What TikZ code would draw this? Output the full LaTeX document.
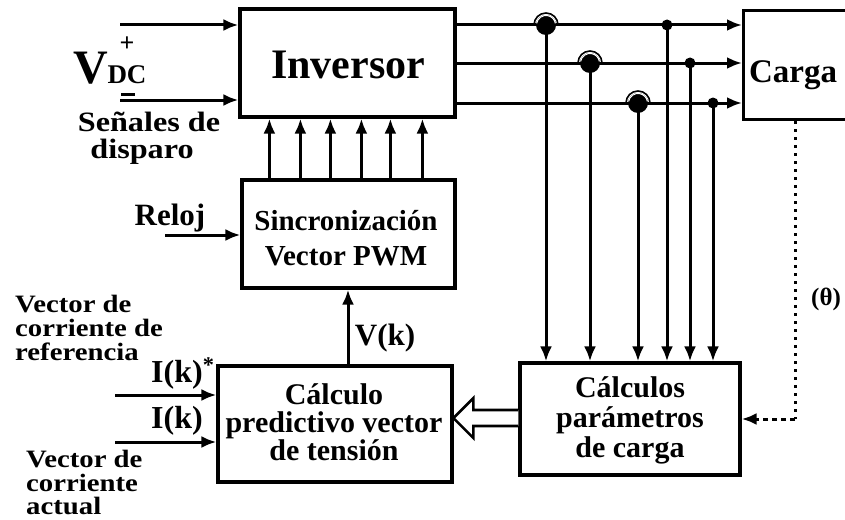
\documentclass[tikz,border=0pt]{standalone}
\usepackage{fontspec}
\setmainfont{Liberation Serif}
\newfontfamily\widefam{Liberation Serif}[FakeStretch=1.15]
\usetikzlibrary{arrows.meta,calc}
\newcommand{\fsz}[2]{\bfseries\fontsize{#1}{#2}\selectfont}
\newcommand{\wsz}[2]{\widefam\bfseries\fontsize{#1}{#2}\selectfont}
\begin{document}
\begin{tikzpicture}[x=1pt,y=-1pt,
  box/.style={draw, line width=3.2pt, inner sep=0pt},
  wire/.style={line width=3pt},
  arr/.style={wire, -{Latex[length=15pt,width=12pt]}},
  lab/.style={inner sep=0pt, align=center}
]
\useasboundingbox (0,0) rectangle (845,519);

% boxes
\node[box, minimum width=215pt, minimum height=108pt] (inv) at (347.5,63) {};
\node[lab, anchor=base, font=\fsz{42}{42}] (invT) at (348,78) {Inversor};
\node[box, minimum width=125pt, minimum height=109pt, anchor=north west] (carga) at (742,9) {};
\node[lab, anchor=base, font=\fsz{33}{33}] (cargaT) at (793,82) {Carga};
\node[box, minimum width=213pt, minimum height=108pt] (sinc) at (348.5,234) {};
\node[lab, anchor=base, font=\fsz{29}{29}] (sincT1) at (346,230) {Sincronización};
\node[lab, anchor=base, font=\fsz{29}{29}] (sincT2) at (346,265) {Vector PWM};
\node[box, minimum width=234pt, minimum height=116pt] (pred) at (335,424) {};
\node[lab, anchor=north, font=\fsz{30}{28}] (predT) at (334,383) {Cálculo\\predictivo vector\\de tensión};
\node[box, minimum width=220pt, minimum height=112pt] (calcB) at (630,419) {};
\node[lab, anchor=north, font=\fsz{30}{30}] (calcT) at (630,376) {Cálculos\\parámetros\\de carga};

% DC inputs
\coordinate (vp) at (120,25);
\coordinate (vm) at (120,100);
\draw[arr] (vp) -- (vp -| inv.west);
\draw[arr] (vm) -- (vm -| inv.west);

% left labels
\node[lab, anchor=base, font=\fsz{48}{48}] (V) at (91,83) {V};
\node[lab, anchor=base, font=\fsz{27}{27}] (DC) at (127,83) {DC};
\node[lab, font=\fsz{26}{26}] (plus) at (127,44) {+};
\node[lab] (minus) at (128,94) {\rule{14pt}{3pt}};
\node[lab, anchor=base, font=\wsz{28}{28}] (sen) at (149,131) {Señales de};
\node[lab, anchor=base, font=\wsz{28}{28}] (disp) at (142,158) {disparo};

% output lines
\coordinate (l1) at (0,25);
\coordinate (l2) at (0,63);
\coordinate (l3) at (0,103);
\draw[arr] (inv.east |- l1) -- (carga.west |- l1);
\draw[arr] (inv.east |- l2) -- (carga.west |- l2);
\draw[arr] (inv.east |- l3) -- (carga.west |- l3);

% taps
\coordinate (j1) at (546,25);
\coordinate (j2) at (590,63);
\coordinate (j3) at (638,103);
\coordinate (d1) at (667,25);
\coordinate (d2) at (690,63);
\coordinate (d3) at (713,103);
\foreach \p in {j1,j2,j3,d1,d2,d3} {
  \draw[arr] (\p) -- (\p |- calcB.north);
}
\foreach \p in {j1,j2,j3} {
  \draw[line width=1.6pt] ($(\p)+(180:12)$) arc[start angle=180, end angle=360, radius=12];
  \fill (\p) circle (10);
  \draw[white, line width=1pt] ($(\p)+(190:9.5)$) arc[start angle=190, end angle=350, radius=9.5];
}
\foreach \p in {d1,d2,d3} {
  \fill (\p) circle (5.5);
}

% gate signals
\foreach \dx [count=\i] in {29,60,90,121,150,182} {
  \coordinate (s\i) at ($(sinc.north west)+(\dx,0)$);
  \draw[arr] (s\i) -- (s\i |- inv.south);
}

% clock
\coordinate (rl) at (165,235);
\draw[arr] (rl) -- (rl -| sinc.west);
\node[lab, anchor=base, font=\fsz{31}{31}] (reloj) at (170,225) {Reloj};

% V(k)
\coordinate (vk) at (348,0);
\draw[arr] (vk |- pred.north) -- (vk |- sinc.south);
\node[lab, anchor=base, font=\fsz{31}{31}] (vkT) at (385,345) {V(k)};

% current inputs
\coordinate (ir) at (115,395);
\coordinate (ia) at (115,442);
\draw[arr] (ir) -- (ir -| pred.west);
\draw[arr] (ia) -- (ia -| pred.west);
\node[lab, anchor=base west, font=\fsz{32}{32}] (irT) at (151,382) {I(k)\textsuperscript{*}};
\node[lab, anchor=base west, font=\fsz{32}{32}] (iaT) at (151,428) {I(k)};
\node[lab, anchor=base west, font=\wsz{25}{25}] (refT1) at (15,312) {Vector de};
\node[lab, anchor=base west, font=\wsz{25}{25}] (refT2) at (15,336) {corriente de};
\node[lab, anchor=base west, font=\wsz{25}{25}] (refT3) at (15,360) {referencia};
\node[lab, anchor=base west, font=\wsz{25}{25}] (actT1) at (26,467) {Vector de};
\node[lab, anchor=base west, font=\wsz{25}{25}] (actT2) at (26,491) {corriente};
\node[lab, anchor=base west, font=\wsz{25}{25}] (actT3) at (26,514) {actual};

% hollow arrow
\draw[line width=2.6pt, fill=white, line join=miter]
  ($(calcB.west)+(0,-9)$) -- ++(-45,0) -- ++(0,-12) -- ++(-20,20) -- ++(20,20) -- ++(0,-12) -- ++(45,0);

% feedback from load
\coordinate (tb) at (795,0);
\coordinate (corner) at (tb |- calcB.east);
\draw[line width=3pt, dash pattern=on 3pt off 5pt] (tb |- carga.south) -- (corner);
\draw[line width=3pt, dash pattern=on 5pt off 4pt, -{Latex[length=15pt,width=12pt]}] (corner) -- (calcB.east);
\node[lab, anchor=base west, font=\fsz{25}{25}] (thetaT) at (811,305) {(θ)};
\end{tikzpicture}
\end{document}
